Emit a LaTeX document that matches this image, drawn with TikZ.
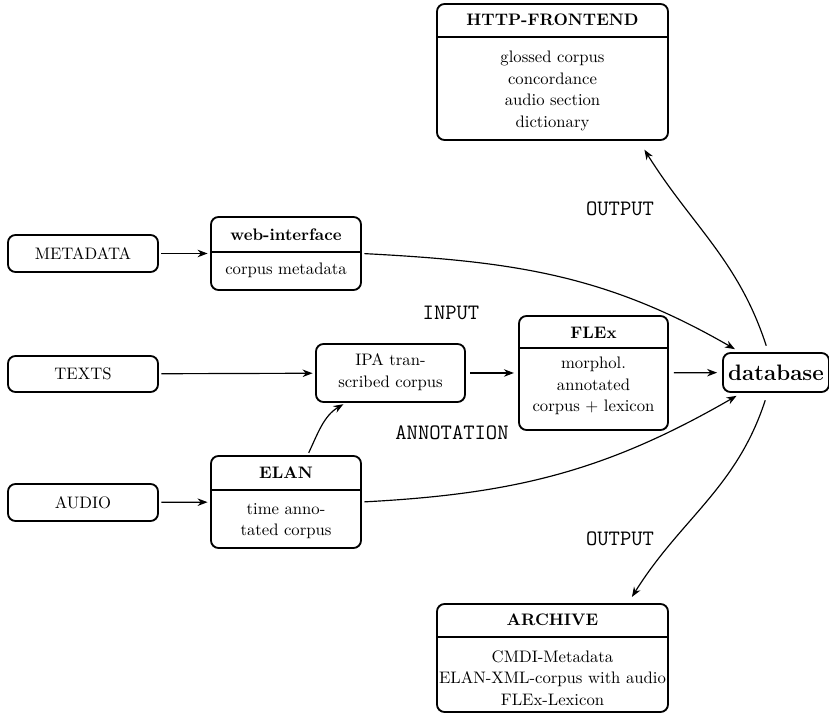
\documentclass[tikz,border=0pt]{standalone}
\usetikzlibrary{arrows.meta}
\begin{document}
\begin{tikzpicture}[x=0.6pt,y=0.6pt,
  box/.style={draw, line width=1.1pt, rounded corners=4.5pt, inner sep=0pt},
  hdr/.style={line width=1.1pt},
  txt/.style={inner sep=0pt, align=center, font=\fontsize{10}{13}\selectfont},
  ttl/.style={inner sep=0pt, align=center, font=\bfseries},
  lbl/.style={inner sep=0pt, font=\ttfamily\fontsize{13.2}{15}\selectfont},
  conn/.style={line width=0.7pt, -{Stealth[length=6pt,width=4.5pt]}, shorten >=1.5pt, shorten <=1.5pt}]
\useasboundingbox (0,0) rectangle (829,715);

% boxes
\node[box, minimum width=138.6pt, minimum height=81.6pt] (http) at (552.5,643) {};
\node[box, minimum width=90pt, minimum height=22.2pt] (meta) at (83,461.5) {METADATA};
\node[box, minimum width=90pt, minimum height=43.8pt] (web) at (286,461.5) {};
\node[box, minimum width=90pt, minimum height=21.6pt] (texts) at (83,341) {TEXTS};
\node[box, minimum width=89.4pt, minimum height=34.8pt] (ipa) at (390.5,342) {};
\node[box, minimum width=89.4pt, minimum height=68.4pt] (flex) at (593.5,342) {};
\node[box, minimum width=63.6pt, minimum height=23.4pt, font=\fontsize{13.4}{15}\selectfont\bfseries] (db) at (776,342.5) {database};
\node[box, minimum width=90pt, minimum height=22.2pt] (audio) at (83,212.5) {AUDIO};
\node[box, minimum width=90pt, minimum height=55.2pt] (elan) at (286,213) {};
\node[box, minimum width=138.6pt, minimum height=64.8pt] (archive) at (552.5,57) {};

% header lines
\draw[hdr] (http.west |- 0,678) -- (http.east |- 0,678);
\draw[hdr] (web.west |- 0,463) -- (web.east |- 0,463);
\draw[hdr] (flex.west |- 0,367) -- (flex.east |- 0,367);
\draw[hdr] (elan.west |- 0,225) -- (elan.east |- 0,225);
\draw[hdr] (archive.west |- 0,78) -- (archive.east |- 0,78);

% texts in boxes
\node[ttl] (httpT) at (552.5,695) {HTTP-FRONTEND};
\node[txt] (httpB) at (552.5,624) {glossed corpus\\concordance\\audio section\\dictionary};
\node[ttl] (webT) at (286,480) {web-interface};
\node[txt] (webB) at (286,445) {corpus metadata};
\node[txt] (ipaB) at (390.5,343) {IPA tran-\\scribed corpus};
\node[ttl] (flexT) at (593.5,382) {FLEx};
\node[txt] (flexB) at (593.5,329) {morphol.\\annotated\\corpus + lexicon};
\node[ttl] (elanT) at (286,242) {ELAN};
\node[txt] (elanB) at (286,194) {time anno-\\tated corpus};
\node[ttl] (archT) at (552.5,95) {ARCHIVE};
\node[txt] (archB) at (552.5,37) {CMDI-Metadata\\ELAN-XML-corpus with audio\\FLEx-Lexicon};

% labels
\node[lbl] (out1) at (620,506) {OUTPUT};
\node[lbl] (inp) at (451,402) {INPUT};
\node[lbl] (ann) at (452,282) {ANNOTATION};
\node[lbl] (out2) at (620,176) {OUTPUT};

% connectors
\draw[conn] (meta) -- (web);
\draw[conn] (texts) -- (ipa);
\draw[conn] (audio) -- (elan);
\draw[conn, shorten >=2.5pt, shorten <=2.5pt] (ipa) -- (flex);
\draw[conn, shorten >=3pt, shorten <=3pt] (flex) -- (db);
\draw[conn] (web.east) to[out=-3,in=150] ([xshift=9pt,yshift=1pt]db.north west);
\draw[conn] (elan.east) to[out=3,in=-150] ([xshift=10pt,yshift=-1pt]db.south west);
\draw[conn] ([xshift=13pt]elan.north) to[out=65,in=-149] ([xshift=-27pt]ipa.south);
\draw[conn] ([xshift=-5.4pt,yshift=2.4pt]db.north) to[out=108,in=-58] ([xshift=-15.5pt,yshift=-4pt]http.south east);
\draw[conn] ([xshift=-6pt,yshift=-3pt]db.south) to[out=-108,in=58] ([xshift=-23pt,yshift=2.4pt]archive.north east);
\end{tikzpicture}
\end{document}
